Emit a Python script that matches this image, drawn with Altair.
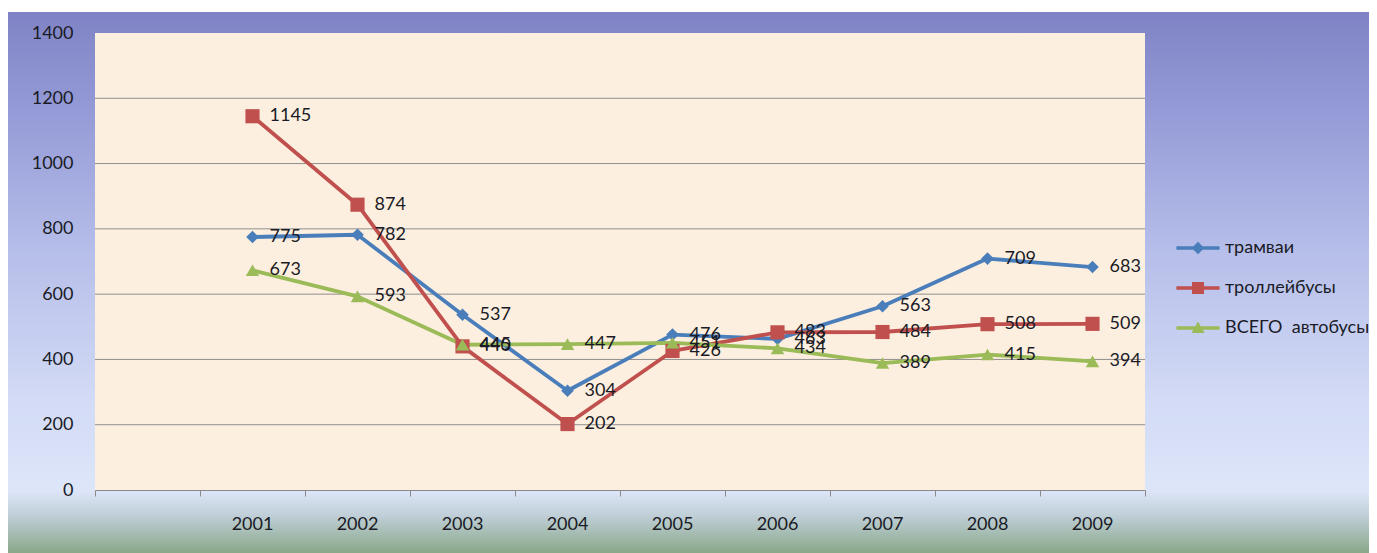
import altair as alt
import pandas as pd

years = ["2001", "2002", "2003", "2004", "2005", "2006", "2007", "2008", "2009"]
categories = [" "] + years
series_names = ["трамваи", "троллейбусы", "ВСЕГО \u00a0автобусы"]
tram = [775, 782, 537, 304, 476, 463, 563, 709, 683]
trolley = [1145, 874, 440, 202, 426, 483, 484, 508, 509]
bus = [673, 593, 445, 447, 451, 434, 389, 415, 394]
y_ticks = [0, 200, 400, 600, 800, 1000, 1200, 1400]
grid_values = [200, 400, 600, 800, 1000, 1200]

colors = ["#4a7ebb", "#c0504d", "#9bbb59"]
marker_shapes = ["diamond", "square", "triangle-up"]
marker_sizes = [160, 200, 180]
legend_paths = [
    "M-3.6,-0.3H3.6V0.3H-3.6Z M0,-1.05L1.05,0L0,1.05L-1.05,0Z",
    "M-3.6,-0.3H3.6V0.3H-3.6Z M-1,-1H1V1H-1Z",
    "M-3.6,-0.3H3.6V0.3H-3.6Z M0,-1.1L1.1,0.85L-1.1,0.85Z",
]

FONT = "Lato"
TEXT_COLOR = "#1a1b26"
W, H = 1050, 457
PAD = {"left": 87, "top": 25, "right": 224, "bottom": 63}

rows = []
for name, vals in zip(series_names, [tram, trolley, bus]):
    for yr, v in zip(years, vals):
        rows.append({"year": yr, "value": v, "series": name})
df = pd.DataFrame(rows)
grid_df = pd.DataFrame({"value": grid_values})

x_def = alt.X(
    "year:N",
    scale=alt.Scale(type="band", domain=categories, paddingInner=0, paddingOuter=0),
    bandPosition=0.5,
    axis=alt.Axis(
        title=None, bandPosition=1, tickExtra=True, tickSize=6, labelPadding=19,
        domainColor="#8a8a8a", tickColor="#8a8a8a", domainWidth=1.2, labelAngle=0,
        grid=False, zindex=1, labelFont=FONT, labelFontSize=18, labelColor=TEXT_COLOR,
    ),
)
y_def = alt.Y(
    "value:Q",
    scale=alt.Scale(domain=[0, 1400], nice=False, zero=True),
    axis=alt.Axis(
        title=None, values=y_ticks, format="d", grid=False, domain=False, ticks=False,
        labelPadding=22, zindex=1, labelFont=FONT, labelFontSize=18, labelColor=TEXT_COLOR,
    ),
)
color_scale = alt.Scale(domain=series_names, range=colors)

legend_props = dict(
    title=None, orient="none", legendX=1094, legendY=206, symbolSize=144,
    labelOffset=18, labelFont=FONT, labelFontSize=18, labelColor=TEXT_COLOR,
    rowPadding=22, symbolStrokeWidth=0, symbolOpacity=1,
)

# legend-only layer (its marks are hidden under the backgrounds)
legend_layer = alt.Chart(df).mark_point(filled=True, opacity=1).encode(
    x=x_def, y=y_def,
    color=alt.Color("series:N", scale=color_scale, legend=alt.Legend(**legend_props)),
    shape=alt.Shape("series:N", scale=alt.Scale(domain=series_names, range=legend_paths),
                    legend=alt.Legend(**legend_props)),
)

bg_gradient = alt.LinearGradient(
    gradient="linear", x1=0, y1=0, x2=0, y2=1,
    stops=[
        alt.GradientStop(offset=0.0, color="#7f83c5"),
        alt.GradientStop(offset=0.18, color="#949ad6"),
        alt.GradientStop(offset=0.45, color="#b7bfea"),
        alt.GradientStop(offset=0.72, color="#d3dbf6"),
        alt.GradientStop(offset=0.885, color="#dde6f9"),
        alt.GradientStop(offset=0.93, color="#c0cfd8"),
        alt.GradientStop(offset=1.0, color="#89a889"),
    ],
)
one = alt.Data(values=[{"k": 1}])
bg = alt.Chart(one).mark_rect(fill=bg_gradient).encode(
    x=alt.value(-PAD["left"]), x2=alt.value(W + PAD["right"]),
    y=alt.value(-21), y2=alt.value(H + PAD["bottom"]),
)
plot_bg = alt.Chart(one).mark_rect(fill="#fdefdf").encode(
    x=alt.value(0), x2=alt.value(W), y=alt.value(0), y2=alt.value(H),
)

grid = alt.Chart(grid_df).mark_rule(color="#8e8e8e", strokeWidth=1).encode(y=y_def)

lines = alt.Chart(df).mark_line(strokeWidth=3.8, strokeJoin="round").encode(
    x=x_def, y=y_def,
    color=alt.Color("series:N", scale=color_scale, legend=None),
)

point_layers = []
for name, shp, sz in zip(series_names, marker_shapes, marker_sizes):
    point_layers.append(
        alt.Chart(df).transform_filter(alt.datum.series == name)
        .mark_point(filled=True, opacity=1, shape=shp, size=sz)
        .encode(x=x_def, y=y_def,
                color=alt.Color("series:N", scale=color_scale, legend=None))
    )

labels = alt.Chart(df).mark_text(
    align="left", baseline="middle", dx=17, font=FONT, fontSize=18, color=TEXT_COLOR
).encode(x=x_def, y=y_def, text=alt.Text("value:Q", format="d"))

chart = alt.layer(
    legend_layer, bg, plot_bg, grid, lines, *point_layers, labels
).properties(
    width=W, height=H, autosize=alt.AutoSizeParams(type="none"), padding=PAD,
    background="white",
).configure_view(stroke=None)

chart.save("out.html", embed_options={"renderer": "svg", "actions": False})
